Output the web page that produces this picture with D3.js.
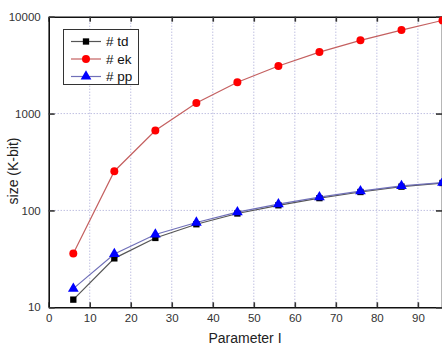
<!DOCTYPE html>
<html><head><meta charset="utf-8">
<script src="https://cdn.jsdelivr.net/npm/d3@7"></script>
<style>
html,body{margin:0;padding:0;background:#fff;}
text{font-family:Arial,"Liberation Sans",sans-serif;}
</style></head>
<body><svg id="c" width="442" height="346"></svg>
<script>
const xValues = [6, 16, 26, 36, 46, 56, 66, 76, 86, 96];
const tdValues = [12, 32, 52, 72, 93, 113, 134, 155, 176, 192];
const ekValues = [36, 254, 668, 1286, 2103, 3097, 4315, 5700, 7278, 9160];
const ppValues = [15.6, 35.5, 56.5, 75, 96, 116, 137, 158, 179, 194];
const xTicks = [0, 10, 20, 30, 40, 50, 60, 70, 80, 90];
const yTicks = [10, 100, 1000, 10000];
const seriesNames = ["# td", "# ek", "# pp"];

const svg = d3.select("#c");
const L = 48.7, R = 443, T = 16.7, B = 307.3;
const x = d3.scaleLinear().domain([0, 96]).range([L, L + 96 * 4.102]);
const y = d3.scaleLog().domain([10, 10000]).range([B, T]);

// gridlines
const grid = svg.append("g").attr("stroke", "#a4a4d4").attr("stroke-width", 1).attr("stroke-dasharray", "1,2");
xTicks.filter(d => d > 0).forEach(d => {
  grid.append("line").attr("x1", x(d)).attr("x2", x(d)).attr("y1", T).attr("y2", B);
});
yTicks.filter(d => d > 10 && d < 10000).forEach(d => {
  grid.append("line").attr("x1", L).attr("x2", R).attr("y1", y(d)).attr("y2", y(d));
});

// axes
const fmt = d3.format("d");
const ax = svg.append("g").attr("transform", `translate(0,${B})`)
  .call(d3.axisBottom(x).tickValues(xTicks).tickSizeInner(-5).tickSizeOuter(0).tickPadding(7).tickFormat(fmt));
const axT = svg.append("g").attr("transform", `translate(0,${T})`)
  .call(d3.axisTop(x).tickValues(xTicks).tickSizeInner(-5).tickSizeOuter(0).tickFormat(""));
const ay = svg.append("g").attr("transform", `translate(${L},0)`)
  .call(d3.axisLeft(y).tickValues(yTicks).tickSizeInner(-6).tickSizeOuter(0).tickPadding(8).tickFormat(fmt));
const ayR = svg.append("g").attr("transform", `translate(${R - 1},0)`)
  .call(d3.axisRight(y).tickValues(yTicks).tickSizeInner(-6).tickSizeOuter(0).tickFormat(""));
[ax, axT, ay, ayR].forEach(g => {
  g.select(".domain").attr("stroke", "#111").attr("stroke-width", 1.6);
  g.selectAll(".tick line").attr("stroke", "#333").attr("stroke-width", 1.6);
  g.selectAll("text").attr("font-size", 11.5).attr("fill", "#333").attr("font-family", "Arial, 'Liberation Sans', sans-serif");
});

// axis titles
svg.append("text").attr("x", 245).attr("y", 342.5).attr("text-anchor", "middle")
  .attr("font-size", 14).attr("fill", "#222").text("Parameter I");
svg.append("text").attr("transform", "translate(18,171) rotate(-90)").attr("text-anchor", "middle")
  .attr("font-size", 14).attr("fill", "#222").text("size (K-bit)");

// series
const series = [
  {name: seriesNames[0], values: tdValues, line: "#555", fill: "#000", sym: d3.symbolSquare, size: 40},
  {name: seriesNames[1], values: ekValues, line: "#c46060", fill: "#ff0000", sym: d3.symbolCircle, size: 50},
  {name: seriesNames[2], values: ppValues, line: "#7070b8", fill: "#0000ff", sym: d3.symbolTriangle, size: 50},
];
const lineGen = d3.line().x(d => x(d[0])).y(d => y(d[1]));
series.forEach(s => {
  const pts = xValues.map((v, i) => [v, s.values[i]]);
  svg.append("path").attr("d", lineGen(pts)).attr("fill", "none").attr("stroke", s.line).attr("stroke-width", 1.2);
});
series.forEach(s => {
  const pts = xValues.map((v, i) => [v, s.values[i]]);
  svg.append("g").selectAll("path").data(pts).join("path")
    .attr("d", d3.symbol().type(s.sym).size(s.size))
    .attr("transform", d => `translate(${x(d[0])},${y(d[1])})`)
    .attr("fill", s.fill);
});

// legend
const lg = svg.append("g");
lg.append("rect").attr("x", 63.5).attr("y", 29.5).attr("width", 75).attr("height", 55)
  .attr("fill", "#fff").attr("stroke", "#333").attr("stroke-width", 1);
series.forEach((s, i) => {
  const yy = 41.5 + i * 17.5;
  lg.append("line").attr("x1", 71).attr("x2", 101).attr("y1", yy).attr("y2", yy).attr("stroke", s.line).attr("stroke-width", 1.2);
  lg.append("path").attr("d", d3.symbol().type(s.sym).size(s.size)).attr("transform", `translate(86,${yy})`).attr("fill", s.fill);
  lg.append("text").attr("x", 106).attr("y", yy + 4.5).attr("font-size", 13.5).attr("fill", "#111").text(s.name);
});
</script></body></html>
